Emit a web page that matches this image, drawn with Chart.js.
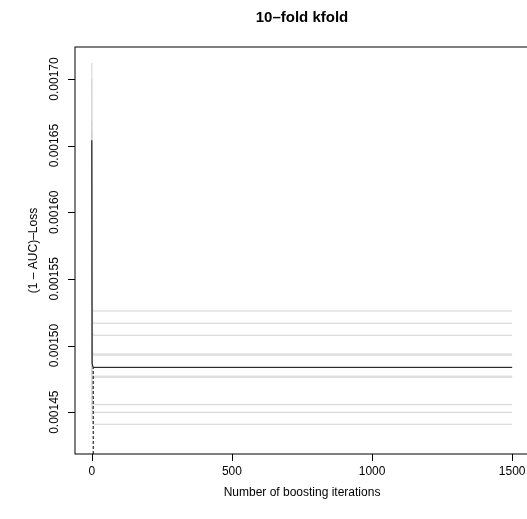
<!DOCTYPE html>
<html>
<head>
<meta charset="utf-8">
<script src="https://cdn.jsdelivr.net/npm/chart.js@4/dist/chart.umd.min.js"></script>
<style>
  html, body { margin: 0; padding: 0; background: #fff; overflow: hidden; }
  canvas { display: block; }
</style>
</head>
<body>
<canvas id="cv" width="560" height="519"></canvas>
<script>
// ── Data ──────────────────────────────────────────────────────────────────────
const iterations = [0, 1, 5, 1500];

// (1 - AUC) loss per fold at each entry of `iterations`
const foldRisk = [
  [0.001712, 0.0015290, 0.0015259, 0.0015259],
  [0.001700, 0.0015195, 0.0015167, 0.0015167],
  [0.001668, 0.0015110, 0.0015077, 0.0015077],
  [0.001660, 0.0014960, 0.0014936, 0.0014936],
  [0.001652, 0.0014955, 0.0014928, 0.0014928],
  [0.001648, 0.0014800, 0.0014770, 0.0014770],
  [0.001640, 0.0014790, 0.0014762, 0.0014762],
  [0.001635, 0.0014585, 0.0014556, 0.0014556],
  [0.001630, 0.0014530, 0.0014499, 0.0014499],
  [0.001595, 0.0014440, 0.0014409, 0.0014409],
];

const mstop = 5;
const xTicks = [0, 500, 1000, 1500];
const yTicks = [0.00145, 0.00150, 0.00155, 0.00160, 0.00165, 0.00170];
const yTickLabels = ['0.00145', '0.00150', '0.00155', '0.00160', '0.00165', '0.00170'];

const titleText = '10\u2013fold kfold';
const xTitle = 'Number of boosting iterations';
const yTitle = '(1 \u2013 AUC)\u2013Loss';

// ── Derived series ────────────────────────────────────────────────────────────
const meanRisk = iterations.map((_, j) =>
  foldRisk.reduce((s, f) => s + f[j], 0) / foldRisk.length);
const mstopRisk = meanRisk[iterations.indexOf(mstop)];

const Y_MIN = 0.0014186, Y_MAX = 0.0017240;
const FONT = '"Liberation Sans", Arial, Helvetica, sans-serif';

const toPoints = vals => iterations.map((it, i) => ({ x: it, y: vals[i] }));

const datasets = foldRisk.map(f => ({
  data: toPoints(f),
  borderColor: '#d3d3d3',
  borderWidth: 1,
  pointRadius: 0,
  order: 2,
}));
datasets.push({
  data: toPoints(meanRisk),
  borderColor: '#000',
  borderWidth: 1,
  pointRadius: 0,
  order: 1,
});
datasets.push({
  data: [{ x: mstop, y: Y_MIN }, { x: mstop, y: mstopRisk }],
  borderColor: '#000',
  borderWidth: 1,
  borderDash: [3, 2],
  pointRadius: 0,
  order: 0,
});

// ── Base-graphics style frame: box, axes, labels ─────────────────────────────
const framePlugin = {
  id: 'frame',
  beforeDraw(chart) {
    const c = chart.ctx;
    c.save();
    c.fillStyle = '#fff';
    c.fillRect(0, 0, chart.width, chart.height);
    c.restore();
  },
  afterDraw(chart) {
    const c = chart.ctx;
    const a = chart.chartArea;
    const xs = chart.scales.x, ys = chart.scales.y;
    c.save();
    c.strokeStyle = '#000';
    c.lineWidth = 1;
    c.strokeRect(a.left, a.top, a.right - a.left, a.bottom - a.top);

    c.fillStyle = '#000';
    c.font = '12px ' + FONT;

    // x axis
    c.beginPath();
    xTicks.forEach(t => {
      const px = Math.round(xs.getPixelForValue(t)) + 0.5;
      c.moveTo(px, a.bottom);
      c.lineTo(px, a.bottom + 7);
    });
    c.stroke();
    c.textAlign = 'center';
    c.textBaseline = 'alphabetic';
    xTicks.forEach(t => c.fillText(String(t), xs.getPixelForValue(t), 475));

    // y axis
    c.beginPath();
    yTicks.forEach(t => {
      const py = Math.round(ys.getPixelForValue(t)) + 0.5;
      c.moveTo(a.left, py);
      c.lineTo(a.left - 7, py);
    });
    c.stroke();
    yTicks.forEach((t, i) => {
      c.save();
      c.translate(58, ys.getPixelForValue(t));
      c.rotate(-Math.PI / 2);
      c.fillText(yTickLabels[i], 0, 0);
      c.restore();
    });

    // axis titles
    const cx = (a.left + a.right) / 2;
    const cy = (a.top + a.bottom) / 2;
    c.fillText(xTitle, cx, 496);
    c.save();
    c.translate(37, cy);
    c.rotate(-Math.PI / 2);
    c.fillText(yTitle, 0, 0);
    c.restore();

    // main title
    c.font = 'bold 15px ' + FONT;
    c.fillText(titleText, cx, 21.5);
    c.restore();
  }
};

new Chart(document.getElementById('cv'), {
  type: 'line',
  data: { datasets },
  options: {
    responsive: false,
    animation: false,
    layout: { padding: { left: 75, top: 47, right: 31, bottom: 65 } },
    plugins: { legend: { display: false }, tooltip: { enabled: false } },
    scales: {
      x: { type: 'linear', min: -60, max: 1560, display: false },
      y: { type: 'linear', min: Y_MIN, max: Y_MAX, display: false },
    },
  },
  plugins: [framePlugin],
});
</script>
</body>
</html>
